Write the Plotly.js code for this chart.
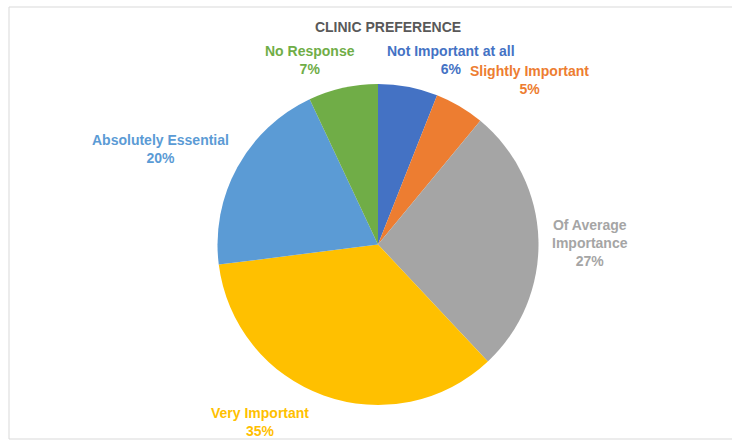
<!DOCTYPE html>
<html>
<head>
<meta charset="utf-8">
<script src="https://cdn.plot.ly/plotly-3.0.1.min.js"></script>
<style>html,body{margin:0;padding:0;background:#fff;}#chart{width:732px;height:444px;}</style>
</head>
<body>
<div id="chart"></div>
<script>
// Data
const categories = ["Not Important at all", "Slightly Important", "Of Average<br>Importance", "Very Important", "Absolutely Essential", "No Response"];
const percentValues = [6, 5, 27, 35, 20, 7];
const sliceColors = ["#4472C4", "#ED7D31", "#A5A5A5", "#FFC000", "#5B9BD5", "#70AD47"];
const chartTitle = "CLINIC PREFERENCE";

// Label layout positions (pixels in a 732x444 figure)
const W = 732, H = 444;
const labelPos = [[451, 60], [529, 80], [590, 243], [260, 422], [160, 149], [310, 60]];

const font = "'Liberation Sans', sans-serif";

const annotations = categories.map((c, i) => ({
  text: "<b>" + c + "<br>" + percentValues[i] + "%</b>",
  x: labelPos[i][0] / W,
  y: 1 - labelPos[i][1] / H,
  xref: "paper", yref: "paper",
  xanchor: "center", yanchor: "middle",
  align: "center",
  showarrow: false,
  font: {family: font, size: 14, color: sliceColors[i]}
}));

const cx = 378, cy = 244.5, r = 160.5;
const trace = {
  type: "pie",
  labels: categories,
  values: percentValues,
  marker: {colors: sliceColors, line: {width: 0}},
  sort: false,
  direction: "clockwise",
  rotation: 0,
  textinfo: "none",
  hoverinfo: "label+percent",
  showlegend: false,
  domain: {x: [(cx - r) / W, (cx + r) / W], y: [1 - (cy + r) / H, 1 - (cy - r) / H]}
};

const layout = {
  width: W, height: H,
  margin: {l: 0, r: 0, t: 0, b: 0},
  paper_bgcolor: "#ffffff",
  showlegend: false,
  title: {
    text: "<b>" + chartTitle + "</b>",
    x: 388 / W, xanchor: "center",
    y: 1 - 27 / H, yanchor: "middle",
    font: {family: font, size: 14, color: "#595959"}
  },
  annotations: annotations,
  shapes: [{
    type: "rect", xref: "paper", yref: "paper",
    x0: 9 / W, x1: 1.1, y0: 1 - 439 / H, y1: 1 - 7 / H,
    line: {color: "#d9d9d9", width: 1}
  }]
};

Plotly.newPlot("chart", [trace], layout, {staticPlot: true, displayModeBar: false});
</script>
</body>
</html>
